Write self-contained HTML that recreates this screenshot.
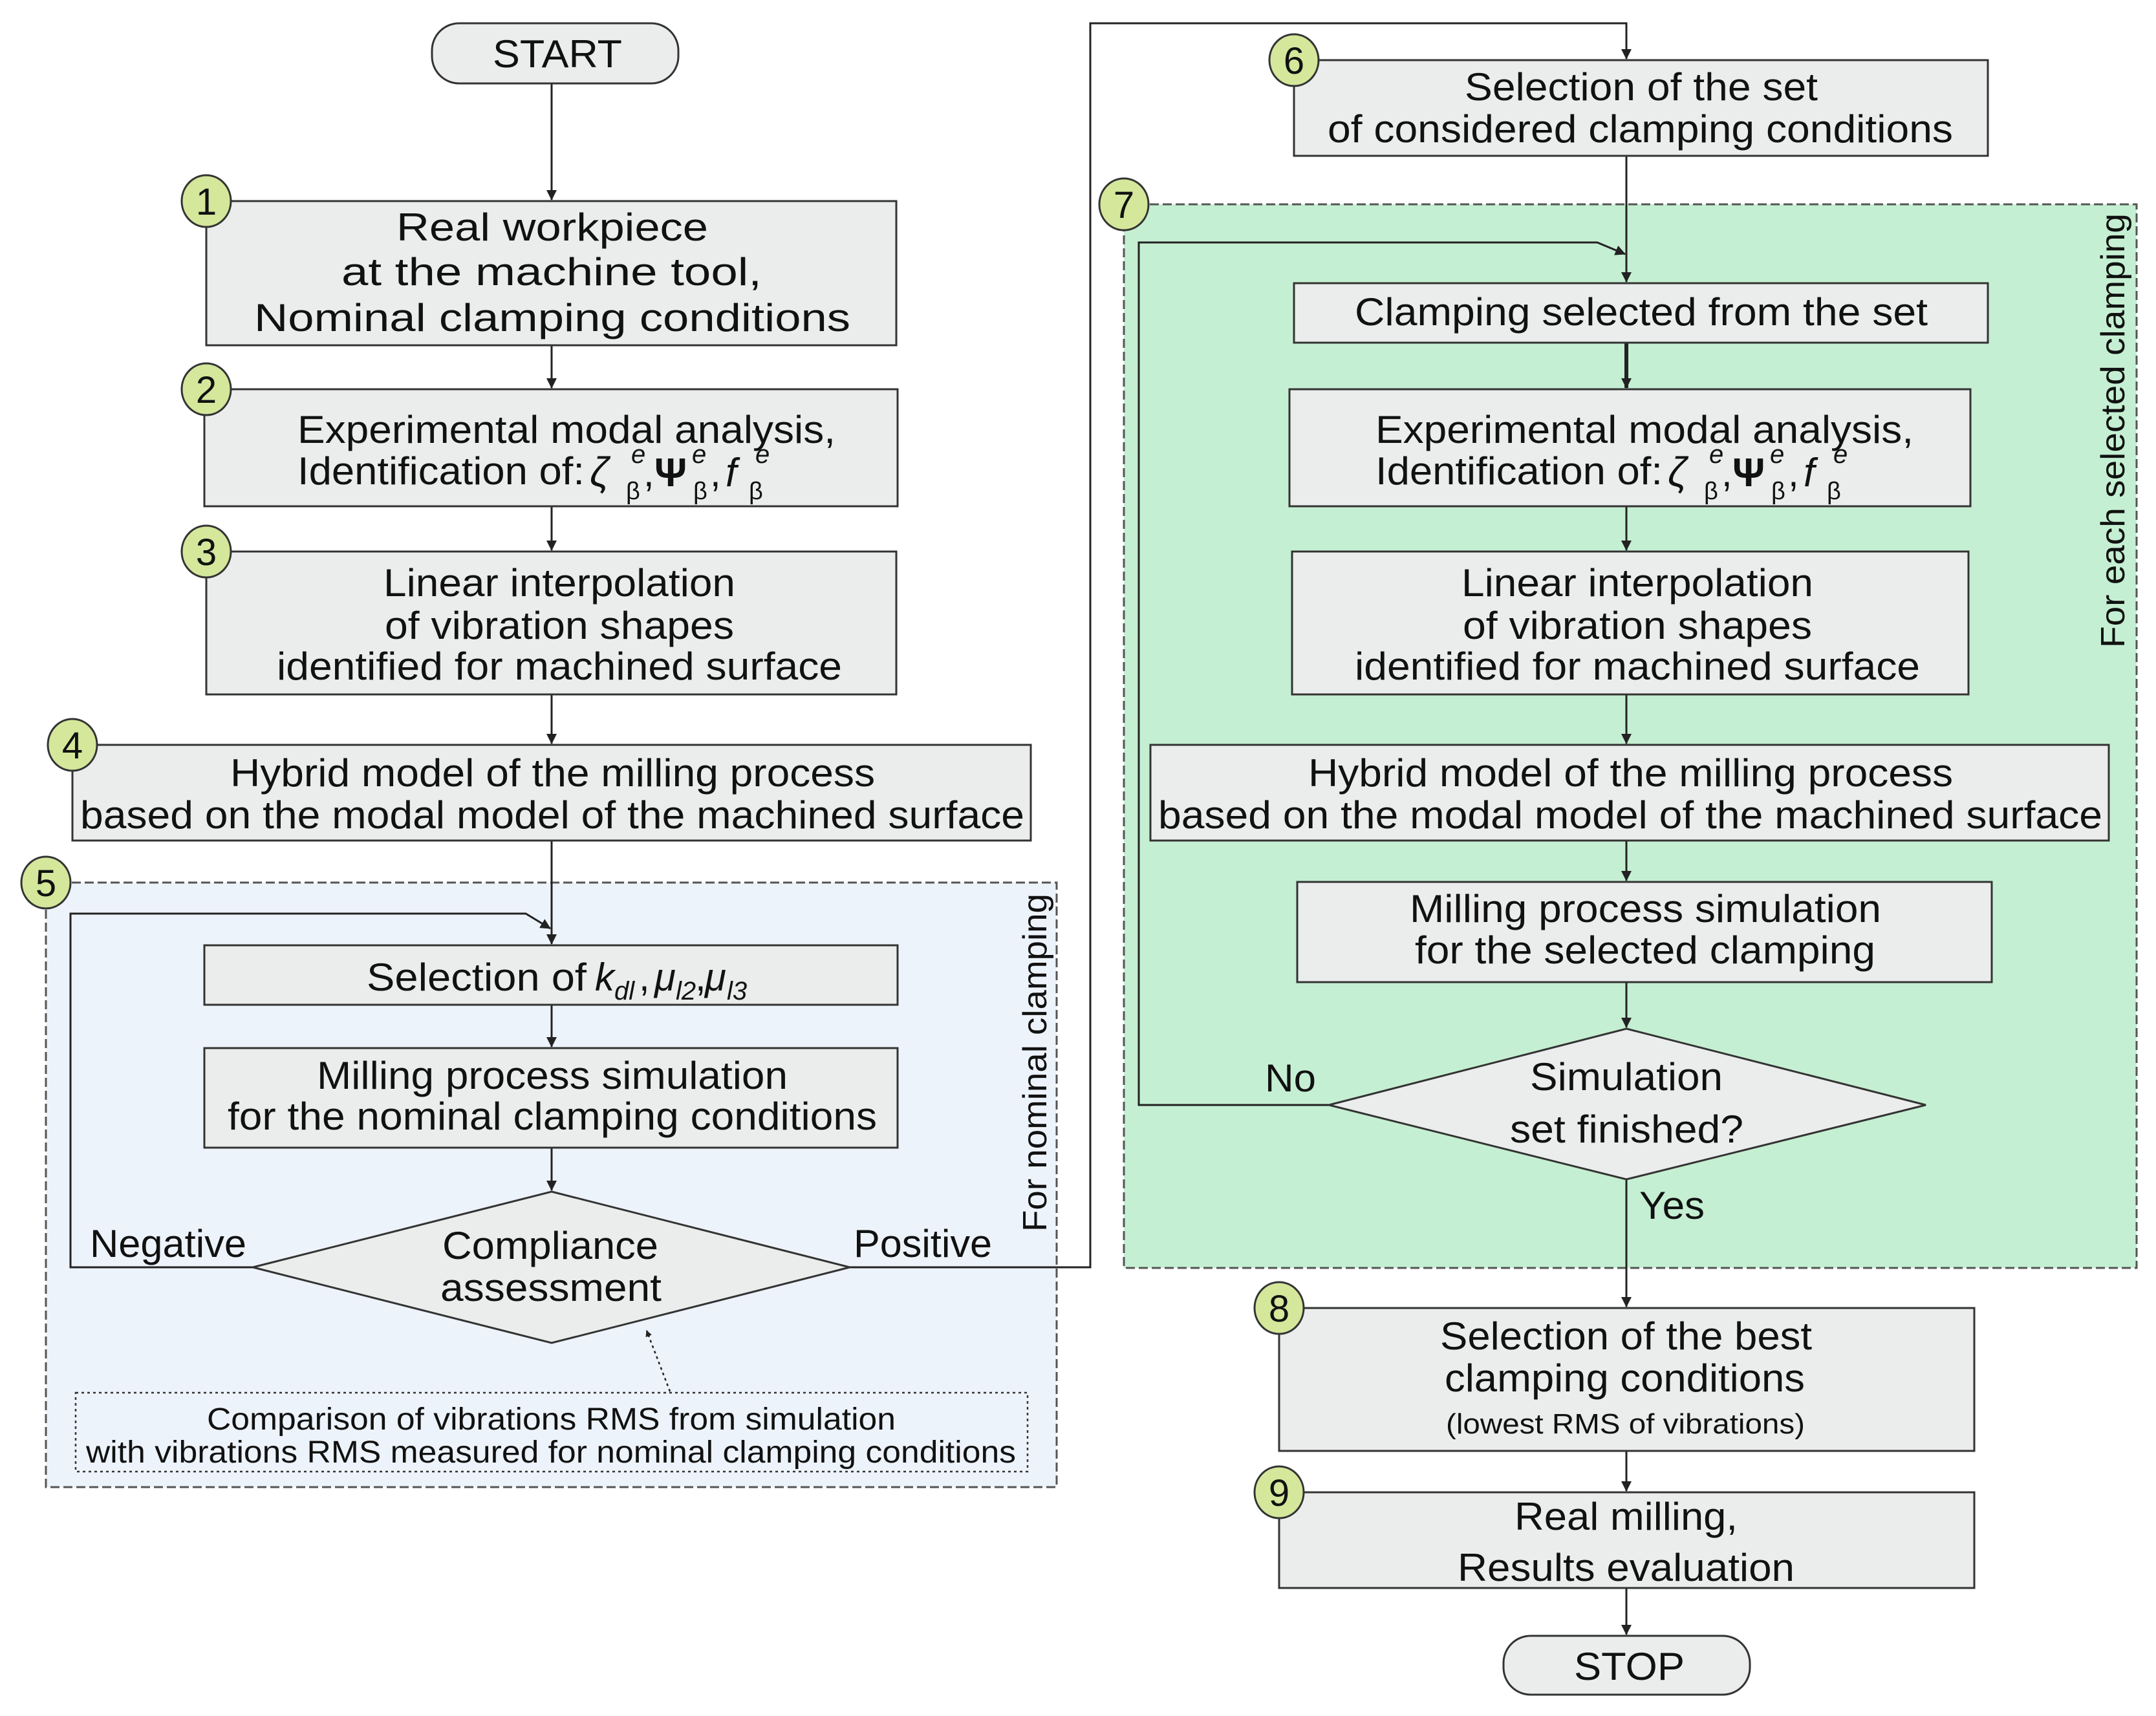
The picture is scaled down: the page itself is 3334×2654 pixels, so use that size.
<!DOCTYPE html>
<html><head><meta charset="utf-8"><style>
html,body{margin:0;padding:0;background:#fff}
svg{display:block}
text{font-family:"Liberation Sans",sans-serif;fill:#111}
.m{font-size:60px}
.s{font-size:48px}
.ser{font-family:"Liberation Serif",serif}
</style></head><body>
<svg width="3334" height="2654" viewBox="0 0 3334 2654" xmlns="http://www.w3.org/2000/svg">
<defs>
<marker id="a" markerWidth="10" markerHeight="10" refX="9" refY="5" orient="auto" markerUnits="userSpaceOnUse" viewBox="0 0 10 10">
<path d="M0,0 L10,5 L0,10 z" fill="#222"/></marker>
<marker id="a2" markerWidth="16" markerHeight="16" refX="15" refY="8" orient="auto" markerUnits="userSpaceOnUse" viewBox="0 0 16 16">
<path d="M0,0 L16,8 L0,16 z" fill="#222"/></marker>
</defs>

<rect x="71" y="1365" width="1563" height="935" fill="#edf3fa" stroke="#555" stroke-width="3" stroke-dasharray="14,6"/>
<rect x="1738" y="316" width="1566" height="1645" fill="#c5efd2" stroke="#555" stroke-width="3" stroke-dasharray="14,6"/>

<g stroke="#222" stroke-width="3" fill="none">
<line x1="853" y1="129" x2="853" y2="309" marker-end="url(#a2)"/>
<line x1="853" y1="534" x2="853" y2="600" marker-end="url(#a2)"/>
<line x1="853" y1="783" x2="853" y2="851" marker-end="url(#a2)"/>
<line x1="853" y1="1074" x2="853" y2="1150" marker-end="url(#a2)"/>
<line x1="853" y1="1300" x2="853" y2="1460" marker-end="url(#a2)"/>
<line x1="853" y1="1554" x2="853" y2="1619" marker-end="url(#a2)"/>
<line x1="853" y1="1775" x2="853" y2="1841" marker-end="url(#a2)"/>
<polyline points="391,1960 109,1960 109,1413 813,1413 851,1436" marker-end="url(#a2)"/>
<polyline points="1314,1960 1686,1960 1686,36 2515,36 2515,91" marker-end="url(#a2)"/>
<line x1="1036" y1="2152" x2="1000" y2="2058" stroke-dasharray="4,5" stroke-width="2.5" marker-end="url(#a)"/>
<line x1="2515" y1="241" x2="2515" y2="436" marker-end="url(#a2)"/>
<polyline points="2055,1709 1761,1709 1761,375 2470,375 2513,393" marker-end="url(#a2)"/>
<line x1="2515" y1="530" x2="2515" y2="600" stroke-width="6" marker-end="url(#a2)"/>
<line x1="2515" y1="783" x2="2515" y2="851" marker-end="url(#a2)"/>
<line x1="2515" y1="1074" x2="2515" y2="1150" marker-end="url(#a2)"/>
<line x1="2515" y1="1300" x2="2515" y2="1362" marker-end="url(#a2)"/>
<line x1="2515" y1="1519" x2="2515" y2="1589" marker-end="url(#a2)"/>
<line x1="2515" y1="1824" x2="2515" y2="2021" marker-end="url(#a2)"/>
<line x1="2515" y1="2244" x2="2515" y2="2306" marker-end="url(#a2)"/>
<line x1="2515" y1="2456" x2="2515" y2="2528" marker-end="url(#a2)"/>
</g>

<g fill="#ebecec" stroke="#333" stroke-width="3">
<rect x="668" y="36" width="381" height="93" rx="42"/>
<rect x="319" y="311" width="1067" height="223"/>
<rect x="316" y="602" width="1072" height="181"/>
<rect x="319" y="853" width="1067" height="221"/>
<rect x="112" y="1152" width="1482" height="148"/>
<rect x="316" y="1462" width="1072" height="92"/>
<rect x="316" y="1621" width="1072" height="154"/>
<polygon points="853,1843 1314,1960 853,2077 391,1960"/>
<rect x="2001" y="93" width="1073" height="148"/>
<rect x="2001" y="438" width="1073" height="92"/>
<rect x="1994" y="602" width="1053" height="181"/>
<rect x="1998" y="853" width="1046" height="221"/>
<rect x="1779" y="1152" width="1482" height="148"/>
<rect x="2006" y="1364" width="1074" height="155"/>
<polygon points="2515,1591 2978,1709 2515,1824 2055,1709"/>
<rect x="1978" y="2023" width="1075" height="221"/>
<rect x="1978" y="2308" width="1075" height="148"/>
<rect x="2325" y="2530" width="381" height="91" rx="42"/>
</g>
<rect x="117" y="2154" width="1472" height="122" fill="none" stroke="#333" stroke-width="2.5" stroke-dasharray="4,5"/>

<g fill="#d4e79b" stroke="#333" stroke-width="3">
<ellipse cx="319" cy="311" rx="38" ry="40"/><ellipse cx="319" cy="602" rx="38" ry="40"/><ellipse cx="319" cy="853" rx="38" ry="40"/>
<ellipse cx="112" cy="1152" rx="38" ry="40"/><ellipse cx="71" cy="1365" rx="38" ry="40"/><ellipse cx="2001" cy="93" rx="38" ry="40"/>
<ellipse cx="1738" cy="316" rx="38" ry="40"/><ellipse cx="1978" cy="2023" rx="38" ry="40"/><ellipse cx="1978" cy="2308" rx="38" ry="40"/>
</g>
<g font-size="58" text-anchor="middle">
<text x="319" y="332">1</text><text x="319" y="623">2</text><text x="319" y="874">3</text>
<text x="112" y="1173">4</text><text x="71" y="1386">5</text><text x="2001" y="114">6</text>
<text x="1738" y="337">7</text><text x="1978" y="2044">8</text><text x="1978" y="2329">9</text>
</g>

<g class="m">
<text x="762" y="104" textLength="200" lengthAdjust="spacingAndGlyphs">START</text>
<text x="613" y="372" textLength="482" lengthAdjust="spacingAndGlyphs">Real workpiece</text>
<text x="528" y="441" textLength="650" lengthAdjust="spacingAndGlyphs">at the machine tool,</text>
<text x="393" y="512" textLength="922" lengthAdjust="spacingAndGlyphs">Nominal clamping conditions</text>
<text x="460" y="685" textLength="832" lengthAdjust="spacingAndGlyphs">Experimental modal analysis,</text>
<text x="460" y="749" textLength="444" lengthAdjust="spacingAndGlyphs">Identification of:</text>
<text x="593" y="922" textLength="544" lengthAdjust="spacingAndGlyphs">Linear interpolation</text>
<text x="595" y="988" textLength="540" lengthAdjust="spacingAndGlyphs">of vibration shapes</text>
<text x="428" y="1051" textLength="874" lengthAdjust="spacingAndGlyphs">identified for machined surface</text>
<text x="356" y="1216" textLength="997" lengthAdjust="spacingAndGlyphs">Hybrid model of the milling process</text>
<text x="124" y="1281" textLength="1460" lengthAdjust="spacingAndGlyphs">based on the modal model of the machined surface</text>
<text x="567" y="1532" textLength="340" lengthAdjust="spacingAndGlyphs">Selection of</text>
<text x="490" y="1684" textLength="728" lengthAdjust="spacingAndGlyphs">Milling process simulation</text>
<text x="352" y="1747" textLength="1004" lengthAdjust="spacingAndGlyphs">for the nominal clamping conditions</text>
<text x="684" y="1947" textLength="334" lengthAdjust="spacingAndGlyphs">Compliance</text>
<text x="681" y="2012" textLength="342" lengthAdjust="spacingAndGlyphs">assessment</text>
<text x="139" y="1944" textLength="242" lengthAdjust="spacingAndGlyphs">Negative</text>
<text x="1320" y="1944" textLength="214" lengthAdjust="spacingAndGlyphs">Positive</text>

<text x="2265" y="155" textLength="546" lengthAdjust="spacingAndGlyphs">Selection of the set</text>
<text x="2053" y="220" textLength="967" lengthAdjust="spacingAndGlyphs">of considered clamping conditions</text>
<text x="2095" y="503" textLength="886" lengthAdjust="spacingAndGlyphs">Clamping selected from the set</text>
<text x="2127" y="685" textLength="832" lengthAdjust="spacingAndGlyphs">Experimental modal analysis,</text>
<text x="2127" y="749" textLength="444" lengthAdjust="spacingAndGlyphs">Identification of:</text>
<text x="2260" y="922" textLength="544" lengthAdjust="spacingAndGlyphs">Linear interpolation</text>
<text x="2262" y="988" textLength="540" lengthAdjust="spacingAndGlyphs">of vibration shapes</text>
<text x="2095" y="1051" textLength="874" lengthAdjust="spacingAndGlyphs">identified for machined surface</text>
<text x="2023" y="1216" textLength="997" lengthAdjust="spacingAndGlyphs">Hybrid model of the milling process</text>
<text x="1791" y="1281" textLength="1460" lengthAdjust="spacingAndGlyphs">based on the modal model of the machined surface</text>
<text x="2180" y="1426" textLength="729" lengthAdjust="spacingAndGlyphs">Milling process simulation</text>
<text x="2188" y="1490" textLength="712" lengthAdjust="spacingAndGlyphs">for the selected clamping</text>
<text x="2366" y="1686" textLength="298" lengthAdjust="spacingAndGlyphs">Simulation</text>
<text x="2335" y="1767" textLength="361" lengthAdjust="spacingAndGlyphs">set finished?</text>
<text x="1956" y="1688" textLength="79" lengthAdjust="spacingAndGlyphs">No</text>
<text x="2535" y="1885" textLength="101" lengthAdjust="spacingAndGlyphs">Yes</text>
<text x="2227" y="2087" textLength="575" lengthAdjust="spacingAndGlyphs">Selection of the best</text>
<text x="2234" y="2152" textLength="557" lengthAdjust="spacingAndGlyphs">clamping conditions</text>
<text x="2342" y="2366" textLength="345" lengthAdjust="spacingAndGlyphs">Real milling,</text>
<text x="2254" y="2445" textLength="521" lengthAdjust="spacingAndGlyphs">Results evaluation</text>
<text x="2434" y="2598" textLength="171" lengthAdjust="spacingAndGlyphs">STOP</text>
</g>
<text x="2236" y="2217" font-size="44" textLength="555" lengthAdjust="spacingAndGlyphs">(lowest RMS of vibrations)</text>
<text class="s" x="320" y="2211" textLength="1065" lengthAdjust="spacingAndGlyphs">Comparison of vibrations RMS from simulation</text>
<text class="s" x="133" y="2262" textLength="1438" lengthAdjust="spacingAndGlyphs">with vibrations RMS measured for nominal clamping conditions</text>

<text font-size="52" transform="translate(1618,1905) rotate(-90)" textLength="523" lengthAdjust="spacingAndGlyphs">For nominal clamping</text>
<text font-size="52" transform="translate(3285,1002) rotate(-90)" textLength="672" lengthAdjust="spacingAndGlyphs">For each selected clamping</text>

<text x="920" y="1532" font-size="60" font-style="italic">k</text>
<text x="950" y="1546" font-size="40" font-style="italic">dl</text>
<text x="988" y="1532" font-size="60">,</text>
<text x="1012" y="1532" font-size="60" font-style="italic">μ</text>
<text x="1045" y="1546" font-size="40" font-style="italic">l2</text>
<text x="1075" y="1532" font-size="60">,</text>
<text x="1090" y="1532" font-size="60" font-style="italic">μ</text>
<text x="1124" y="1546" font-size="40" font-style="italic">l3</text>

<g class="ser">
<text x="912" y="752" font-size="64" font-style="italic">ζ</text>
<text x="976" y="716" font-size="40" font-style="italic">e</text>
<text x="968" y="772" font-size="38">β</text>
<text x="995" y="752" font-size="60">,</text>
<text x="1012" y="752" font-size="62" font-weight="bold">Ψ</text>
<text x="1070" y="716" font-size="40" font-style="italic">e</text>
<text x="1072" y="772" font-size="38">β</text>
<text x="1098" y="752" font-size="60">,</text>
<text x="1122" y="752" font-size="62" font-style="italic">f</text>
<text x="1168" y="716" font-size="40" font-style="italic">e</text>
<text x="1158" y="772" font-size="38">β</text>
</g>
<g class="ser" transform="translate(1667,0)">
<text x="912" y="752" font-size="64" font-style="italic">ζ</text>
<text x="976" y="716" font-size="40" font-style="italic">e</text>
<text x="968" y="772" font-size="38">β</text>
<text x="995" y="752" font-size="60">,</text>
<text x="1012" y="752" font-size="62" font-weight="bold">Ψ</text>
<text x="1070" y="716" font-size="40" font-style="italic">e</text>
<text x="1072" y="772" font-size="38">β</text>
<text x="1098" y="752" font-size="60">,</text>
<text x="1122" y="752" font-size="62" font-style="italic">f</text>
<text x="1168" y="716" font-size="40" font-style="italic">e</text>
<text x="1158" y="772" font-size="38">β</text>
</g>
</svg>
</body></html>
